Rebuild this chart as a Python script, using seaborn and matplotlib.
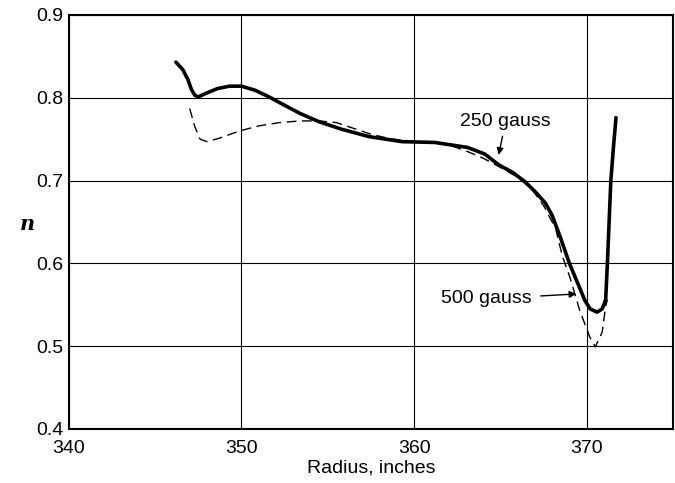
import matplotlib
matplotlib.use("Agg")
import matplotlib.pyplot as plt
import seaborn as sns
import pandas as pd

# 250 gauss (solid, thick)
r_250 = [346.2, 346.6, 346.9, 347.1, 347.3, 347.5, 347.9, 348.6, 349.3, 350.0,
         350.8, 351.6, 352.4, 353.4, 354.5, 355.8, 357.4, 359.3, 361.2, 363.1,
         364.1, 364.9, 365.7, 366.4, 367.0, 367.6, 368.0, 368.5, 369.0, 369.5,
         369.9, 370.2, 370.6, 370.9, 371.1, 371.2, 371.3, 371.4, 371.55, 371.7]
n_250 = [0.843, 0.834, 0.822, 0.810, 0.803, 0.801, 0.805, 0.811, 0.814, 0.814,
         0.809, 0.801, 0.792, 0.781, 0.771, 0.762, 0.753, 0.747, 0.746, 0.740,
         0.732, 0.719, 0.710, 0.699, 0.687, 0.673, 0.658, 0.630, 0.600, 0.575,
         0.555, 0.545, 0.541, 0.545, 0.556, 0.600, 0.650, 0.700, 0.740, 0.776]

# 500 gauss (dashed)
r_500 = [347.0, 347.3, 347.6, 348.0, 348.7, 349.9, 351.0, 352.2, 353.4, 354.5,
         355.5, 356.5, 357.5, 358.5, 359.5, 361.2, 362.3, 363.1, 364.0, 365.0,
         366.0, 366.8, 367.5, 368.2, 368.6, 369.0, 369.6, 370.2, 370.5, 370.9,
         371.1, 371.2]
n_500 = [0.787, 0.765, 0.750, 0.747, 0.751, 0.760, 0.766, 0.770, 0.772, 0.772,
         0.770, 0.763, 0.756, 0.751, 0.748, 0.746, 0.741, 0.735, 0.727, 0.716,
         0.704, 0.690, 0.670, 0.642, 0.608, 0.585, 0.543, 0.510, 0.499, 0.517,
         0.548, 0.556]

x_ticks = [340, 350, 360, 370]
y_ticks = [0.4, 0.5, 0.6, 0.7, 0.8, 0.9]

sns.set_theme(style="white")
plt.rcParams.update({
    "font.family": ["Liberation Sans", "DejaVu Sans"],
    "text.color": "black",
    "axes.labelcolor": "black",
    "axes.edgecolor": "black",
    "axes.linewidth": 1.5,
    "xtick.color": "black",
    "ytick.color": "black",
})

df_250 = pd.DataFrame({"r": r_250, "n": n_250})
df_500 = pd.DataFrame({"r": r_500, "n": n_500})

fig = plt.figure(figsize=(6.75, 4.83), dpi=100)
ax = fig.add_axes([0.102, 0.112, 0.895, 0.857])

sns.lineplot(data=df_250, x="r", y="n", sort=False, estimator=None,
             color="black", linewidth=2.6, ax=ax)
sns.lineplot(data=df_500, x="r", y="n", sort=False, estimator=None,
             color="black", linewidth=1.0, ax=ax)
ax.lines[-1].set_dashes((7, 4))

ax.set_xlim(340, 375)
ax.set_ylim(0.4, 0.9)
ax.set_xticks(x_ticks)
ax.set_yticks(y_ticks)
ax.set_xticklabels([str(t) for t in x_ticks])
ax.set_yticklabels([f"{t:.1f}" for t in y_ticks])
ax.tick_params(axis="both", length=0, labelsize=14)
ax.tick_params(axis="x", pad=8)
ax.tick_params(axis="y", pad=4)
ax.grid(True, color="black", linewidth=0.8)

ax.set_xlabel("Radius, inches", fontsize=14, labelpad=2)
ax.set_ylabel("n", fontsize=15, rotation=0, fontstyle="italic",
              fontweight="bold", family=["DejaVu Serif"])
ax.yaxis.set_label_coords(-0.068, 0.47)

ax.annotate("250 gauss", xy=(364.9, 0.731), xytext=(365.3, 0.771),
            ha="center", va="center", fontsize=14,
            arrowprops=dict(arrowstyle="-|>", color="black", lw=1.0,
                            shrinkA=2, shrinkB=0, mutation_scale=10))
ax.annotate("500 gauss", xy=(369.4, 0.563), xytext=(364.2, 0.557),
            ha="center", va="center", fontsize=14,
            arrowprops=dict(arrowstyle="-|>", color="black", lw=1.0,
                            shrinkA=4, shrinkB=0, mutation_scale=10))

fig.savefig("out.png", dpi=100)
